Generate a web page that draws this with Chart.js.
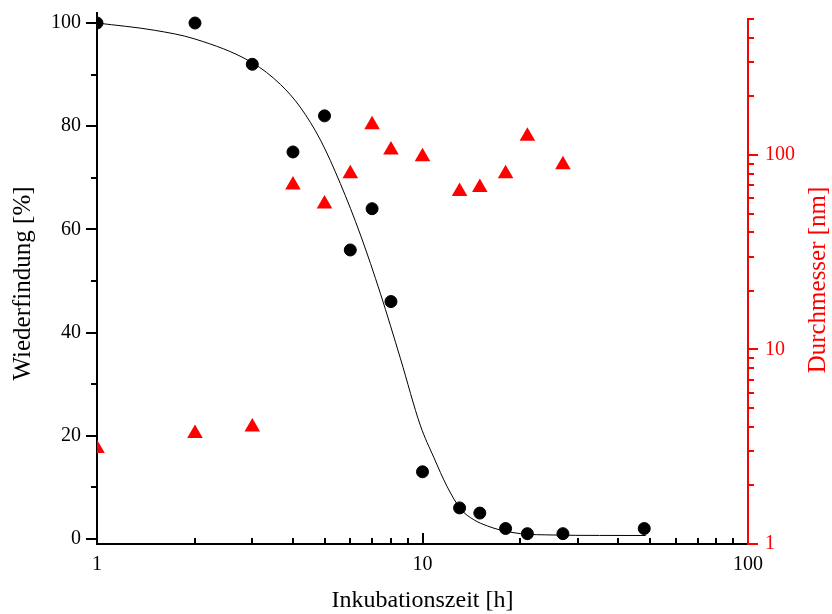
<!DOCTYPE html>
<html>
<head>
<meta charset="utf-8">
<script src="https://cdn.jsdelivr.net/npm/chart.js@4.4.1/dist/chart.umd.min.js"></script>
<style>
  html, body { margin: 0; padding: 0; background: #ffffff; }
  #wrap { width: 832px; height: 614px; }
</style>
</head>
<body>
<div id="wrap"><canvas id="chart" width="832" height="614"></canvas></div>
<script>
// Recovery over incubation time (black circles)
const hours = [1, 2, 3, 4, 5, 6, 7, 8, 10, 13, 15, 18, 21, 27, 48];
const recovery = [100, 100, 92, 75, 82, 56, 64, 46, 13, 6, 5, 2, 1, 1, 2];

// Particle diameter over incubation time (red triangles, right log axis)
const diameterHours = [1, 2, 3, 4, 5, 6, 7, 8, 10, 13, 15, 18, 21, 27];
const diameter = [3.1, 3.7, 4.0, 70, 56, 80, 143, 106, 98, 65, 68, 80, 125, 89];

// Sigmoidal fit through the recovery values
const fitHours = [1, 1.5, 2, 3, 3.66, 4.21, 4.86, 5.59, 6.45, 7.43, 8.56, 9.86, 10.83, 11.91, 13.09, 14.38, 15.82, 17.38, 20, 25, 35, 48.5];
const fitRecovery = [100, 98.6, 96.9, 92.3, 88.1, 83.7, 77.3, 68.9, 58.9, 47.5, 34.9, 21.9, 15.8, 10.1, 5.8, 3.7, 2.5, 1.7, 1.0, 0.75, 0.66, 0.65];

// Axis tick values (labels on the major ones only)
const xMajorTicks = [1, 10, 100];
const xMinorTicks = [2, 3, 4, 5, 6, 7, 8, 9, 20, 30, 40, 50, 60, 70, 80, 90];
const yMajorTicks = [0, 20, 40, 60, 80, 100];
const yMinorTicks = [10, 30, 50, 70, 90];
const y2MajorTicks = [1, 10, 100];
const y2MinorTicks = [2, 3, 4, 5, 6, 7, 8, 9, 20, 30, 40, 50, 60, 70, 80, 90, 200, 300, 400, 500];

const FONT = 'Liberation Serif';
const RED = '#ff0000';
const BLACK = '#000000';

const pairs = (xs, ys) => xs.map((v, i) => ({ x: v, y: ys[i] }));

// Vertical axis title reading bottom to top, baseline at bx
function verticalTitle(ctx, text, color, bx, cy) {
  ctx.save();
  ctx.fillStyle = color;
  ctx.font = '25px "' + FONT + '"';
  ctx.textAlign = 'center';
  ctx.textBaseline = 'alphabetic';
  ctx.translate(bx, cy);
  ctx.rotate(-Math.PI / 2);
  ctx.fillText(text, 0, 0);
  ctx.restore();
}

// Tick marks with major/minor lengths, the right axis line and the vertical titles
const axisMarks = {
  id: 'axisMarks',
  afterDraw(chart) {
    const { ctx, scales } = chart;
    const x = scales.x, y = scales.y, y2 = scales.y2;
    const area = chart.chartArea;
    ctx.save();
    ctx.lineCap = 'butt';
    ctx.lineWidth = 2;

    // left axis: outward ticks
    ctx.strokeStyle = BLACK;
    const drawY = (vals, len) => vals.forEach(v => {
      const p = Math.round(y.getPixelForValue(v));
      ctx.beginPath(); ctx.moveTo(area.left, p); ctx.lineTo(area.left - len, p); ctx.stroke();
    });
    drawY(yMajorTicks, 11);
    drawY(yMinorTicks, 6);

    // bottom axis: inward ticks
    const drawX = (vals, len) => vals.forEach(v => {
      const p = Math.round(x.getPixelForValue(v));
      ctx.beginPath(); ctx.moveTo(p, area.bottom); ctx.lineTo(p, area.bottom - len); ctx.stroke();
    });
    drawX(xMajorTicks, 11);
    drawX(xMinorTicks, 6);

    // right axis: line from 1 to 500 and outward ticks
    ctx.strokeStyle = RED;
    const rx = area.right;
    ctx.beginPath();
    ctx.moveTo(rx, area.bottom + 1);
    ctx.lineTo(rx, y2.getPixelForValue(500) - 1);
    ctx.stroke();
    const drawY2 = (vals, len) => vals.forEach(v => {
      const p = Math.round(y2.getPixelForValue(v));
      ctx.beginPath(); ctx.moveTo(rx, p); ctx.lineTo(rx + len, p); ctx.stroke();
    });
    drawY2(y2MajorTicks, 10);
    drawY2(y2MinorTicks, 6);
    ctx.restore();

    verticalTitle(ctx, 'Wiederfindung [%]', BLACK, 29.5, 283.5);
    verticalTitle(ctx, 'Durchmesser [nm]', RED, 824.5, 280);
  }
};

new Chart(document.getElementById('chart'), {
  type: 'scatter',
  data: {
    datasets: [
      {
        label: 'Durchmesser',
        data: pairs(diameterHours, diameter),
        yAxisID: 'y2',
        pointStyle: 'triangle',
        pointRadius: 9,
        pointBackgroundColor: RED,
        pointBorderWidth: 0,
        borderColor: RED,
        backgroundColor: RED,
        clip: 0
      },
      {
        label: 'Wiederfindung',
        data: pairs(hours, recovery),
        yAxisID: 'y',
        pointStyle: 'circle',
        pointRadius: 6,
        pointBackgroundColor: BLACK,
        pointBorderColor: BLACK,
        pointBorderWidth: 1,
        clip: 0
      },
      {
        label: 'Fit',
        data: pairs(fitHours, fitRecovery),
        yAxisID: 'y',
        showLine: true,
        pointRadius: 0,
        borderColor: BLACK,
        borderWidth: 1,
        cubicInterpolationMode: 'monotone',
        fill: false,
        clip: 0
      }
    ]
  },
  options: {
    responsive: false,
    animation: false,
    devicePixelRatio: 1,
    layout: { padding: { top: 12.7, left: 0, right: 0, bottom: 0 } },
    plugins: { legend: { display: false }, tooltip: { enabled: false } },
    scales: {
      x: {
        type: 'logarithmic',
        position: 'bottom',
        min: 1,
        max: 100,
        grid: { display: false, drawTicks: false },
        border: { display: true, color: BLACK, width: 2 },
        afterBuildTicks: s => { s.ticks = xMajorTicks.map(v => ({ value: v, major: true })); },
        afterFit: s => { s.height = 70; s.paddingLeft = 0; s.paddingRight = 0; },
        ticks: {
          color: BLACK,
          padding: 9,
          autoSkip: false,
          maxRotation: 0,
          font: { family: FONT, size: 20 },
          callback: v => String(v)
        },
        title: {
          display: true,
          text: 'Inkubationszeit [h]',
          color: BLACK,
          font: { family: FONT, size: 24, lineHeight: 1 },
          padding: { top: 0, bottom: 1 }
        }
      },
      y: {
        type: 'linear',
        position: 'left',
        min: -1,
        max: 102,
        grid: { display: false, drawTicks: false },
        border: { display: true, color: BLACK, width: 2 },
        afterBuildTicks: s => { s.ticks = yMajorTicks.map(v => ({ value: v })); },
        afterFit: s => { s.width = 97; s.paddingTop = 0; s.paddingBottom = 0; },
        ticks: {
          color: BLACK,
          padding: 16,
          autoSkip: false,
          font: { family: FONT, size: 20 },
          callback: v => String(v)
        }
      },
      y2: {
        type: 'logarithmic',
        position: 'right',
        min: 1,
        max: 539,
        grid: { display: false, drawTicks: false },
        border: { display: false },
        afterBuildTicks: s => { s.ticks = y2MajorTicks.map(v => ({ value: v, major: true })); },
        afterFit: s => { s.width = 84; s.paddingTop = 0; s.paddingBottom = 0; },
        ticks: {
          color: RED,
          padding: 17,
          autoSkip: false,
          font: { family: FONT, size: 20 },
          callback: v => String(v)
        }
      }
    }
  },
  plugins: [axisMarks]
});
</script>
</body>
</html>
